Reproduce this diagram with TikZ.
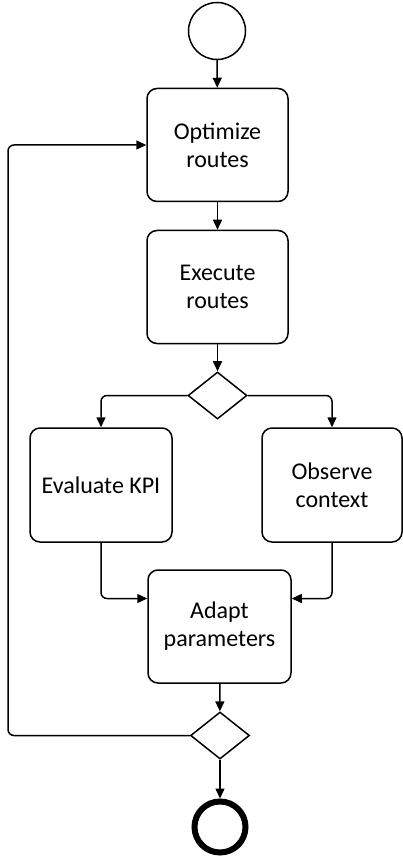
\documentclass[tikz,border=0pt]{standalone}
\usepackage{fontspec}
\setmainfont{Carlito}
\usetikzlibrary{shapes.geometric,arrows.meta}
\begin{document}
\begin{tikzpicture}[x=1pt,y=-1pt,
  every node/.style={font=\fontsize{24}{28}\selectfont},
  task/.style={draw,line width=1.5pt,rounded corners=10pt,minimum width=141pt,minimum height=113pt,align=center,inner sep=0pt},
  gate/.style={draw,line width=1.5pt,diamond,minimum width=59pt,minimum height=47pt,inner sep=0pt},
  flow/.style={line width=1.5pt,-{Triangle[length=10pt,width=9pt]},rounded corners=6pt}]
\useasboundingbox (0,0) rectangle (403,858);
\node[draw,circle,line width=1.5pt,minimum size=57pt,inner sep=0pt] (start) at (217,31) {};
\node[task] (opt) at (217.5,145) {Optimize\\routes};
\node[task] (exec) at (217.5,287) {Execute\\routes};
\node[gate] (d1) at (217.5,395.5) {};
\node[task,minimum width=142pt,minimum height=114pt] (eval) at (101,485) {Evaluate KPI};
\node[task,minimum width=140pt,minimum height=114pt] (obs) at (332,485) {Observe\\context};
\node[task,minimum width=143pt] (adapt) at (219.5,626.5) {Adapt\\parameters};
\node[gate] (d2) at (220,735.5) {};
\node[draw,circle,line width=6pt,minimum size=51pt,inner sep=0pt] (end) at (220,827) {};
\coordinate (lp) at (8,735.5);
\draw[flow] (start) -- (opt);
\draw[flow] (opt) -- (exec);
\draw[flow] (exec) -- (d1);
\draw[flow] (d1.west) -| (eval.north);
\draw[flow] (d1.east) -| (obs.north);
\draw[flow] (eval.south) |- ([yshift=28pt]adapt.west);
\draw[flow] (obs.south) |- ([yshift=28pt]adapt.east);
\draw[flow] (adapt) -- (d2);
\draw[flow] (d2) -- (end);
\draw[flow] (d2.west) -- (lp) |- (opt.west);
\end{tikzpicture}
\end{document}
